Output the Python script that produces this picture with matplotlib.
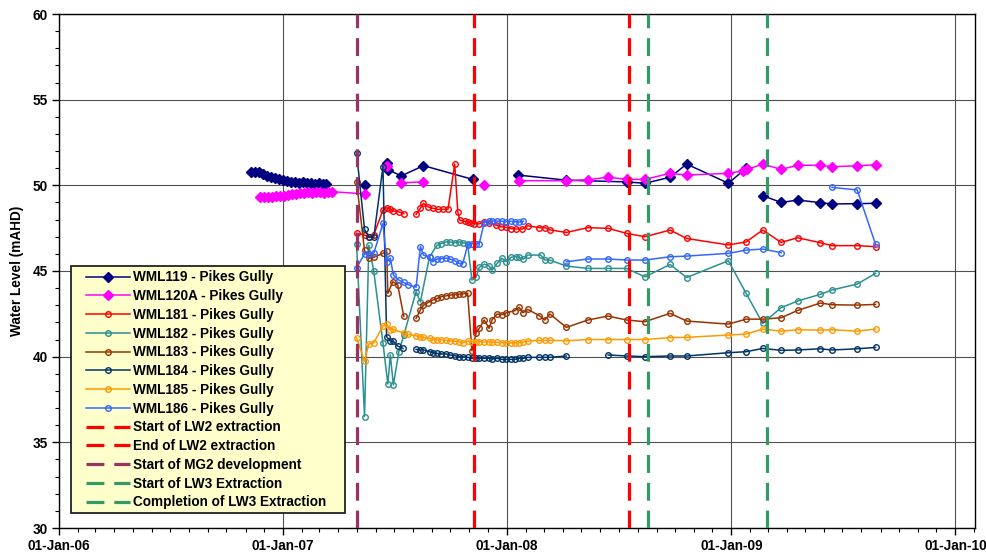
import numpy as np
import matplotlib
matplotlib.use("Agg")
import matplotlib.pyplot as plt
import matplotlib.dates as mdates
from matplotlib.patches import Rectangle
from matplotlib.ticker import MultipleLocator

plt.rcParams['font.family'] = ['Liberation Sans', 'DejaVu Sans']
plt.rcParams['font.weight'] = 'bold'

nan = np.nan

# --------------
# Data
# --------------
wml119_dates = ['2006-11-10', '2006-11-17', '2006-11-23', '2006-11-30', '2006-12-06', '2006-12-13',
                '2006-12-19', '2006-12-26', '2007-01-01', '2007-01-07', '2007-01-14', '2007-01-20',
                '2007-01-27', '2007-02-02', '2007-02-09', '2007-02-15', '2007-02-22', '2007-03-01',
                '2007-03-07', '2007-03-13', '2007-04-10', '2007-05-14', '2007-06-01', '2007-06-19',
                '2007-06-22', '2007-07-13', '2007-08-18', '2007-11-06', '2007-12-15', '2008-01-19',
                '2008-04-07', '2008-07-14', '2008-08-13', '2008-09-23', '2008-10-20', '2008-12-27',
                '2009-01-25', '2009-02-08', '2009-02-21', '2009-03-23', '2009-04-19', '2009-05-26',
                '2009-06-14', '2009-07-25', '2009-08-24']
wml119_level = [50.8, 50.8, 50.75, 50.65, 50.55, 50.5,
                50.4, 50.35, 50.3, 50.25, 50.2, 50.2,
                50.15, 50.2, 50.15, 50.15, 50.1, 50.15,
                50.1, 50.05, nan, 50.0, nan, 51.3,
                50.9, 50.55, 51.15, 50.35, nan, 50.6,
                50.3, 50.2, 50.12, 50.47, 51.24, 50.12,
                51.0, nan, 49.4, 49.0, 49.14, 48.99,
                48.91, 48.93, 48.95]

wml120a_dates = ['2006-11-24', '2006-12-01', '2006-12-07', '2006-12-14', '2006-12-20', '2006-12-27',
                 '2007-01-03', '2007-01-09', '2007-01-16', '2007-01-22', '2007-01-29', '2007-02-04',
                 '2007-02-11', '2007-02-17', '2007-02-24', '2007-03-02', '2007-03-09', '2007-03-15',
                 '2007-03-22', '2007-05-14', '2007-06-01', '2007-06-19', '2007-07-01', '2007-07-13',
                 '2007-08-18', '2007-10-01', '2007-11-25', '2007-12-20', '2008-01-21', '2008-04-07',
                 '2008-05-12', '2008-06-14', '2008-07-14', '2008-08-13', '2008-09-23', '2008-10-20',
                 '2008-12-27', '2009-01-20', '2009-01-27', '2009-02-21', '2009-03-23', '2009-04-19',
                 '2009-05-26', '2009-06-14', '2009-07-25', '2009-08-24']
wml120a_level = [49.3, 49.3, 49.3, 49.32, 49.35, 49.38,
                 49.4, 49.45, 49.5, 49.52, 49.55, 49.58,
                 49.6, 49.58, 49.6, 49.6, 49.58, 49.6,
                 49.63, 49.5, nan, 51.15, nan, 50.15,
                 50.2, nan, 50.02, nan, 50.27, 50.27,
                 50.33, 50.47, 50.35, 50.35, 50.7, 50.6,
                 50.7, 50.85, 50.93, 51.24, 50.93, 51.17,
                 51.17, 51.09, 51.14, 51.2]

wml181_dates = ['2007-05-01', '2007-05-14', '2007-05-21', '2007-05-29', '2007-06-13', '2007-06-19',
                '2007-06-25', '2007-06-30', '2007-07-09', '2007-07-17', '2007-07-27', '2007-08-06',
                '2007-08-13', '2007-08-18', '2007-08-25', '2007-09-02', '2007-09-10', '2007-09-19',
                '2007-09-27', '2007-10-08', '2007-10-13', '2007-10-16', '2007-10-24', '2007-10-29',
                '2007-11-04', '2007-11-09', '2007-11-17', '2007-11-25', '2007-12-03', '2007-12-14',
                '2007-12-22', '2007-12-31', '2008-01-08', '2008-01-16', '2008-01-26', '2008-02-04',
                '2008-02-23', '2008-03-03', '2008-03-11', '2008-04-07', '2008-05-12', '2008-06-14',
                '2008-07-14', '2008-08-13', '2008-09-23', '2008-10-20', '2008-12-27', '2009-01-25',
                '2009-02-21', '2009-03-23', '2009-04-19', '2009-05-26', '2009-06-14', '2009-07-25',
                '2009-08-24']
wml181_level = [47.2, 47.1, 47.0, 47.1, 48.56, 48.7,
                48.6, 48.5, 48.45, 48.35, nan, 48.3,
                48.66, 48.95, 48.75, 48.66, 48.6, 48.6,
                48.6, 51.24, 48.46, 47.97, 47.9, 47.85,
                47.8, 47.75, 47.75, 47.87, 47.8, 47.68,
                47.58, 47.55, 47.48, 47.45, 47.45, 47.64,
                47.53, 47.53, 47.4, 47.25, 47.53, 47.49,
                47.2, 47.0, 47.39, 46.9, 46.52, 46.7,
                47.39, 46.67, 46.94, 46.65, 46.48, 46.48,
                46.42]

wml182_dates = ['2007-05-01', '2007-05-14', '2007-05-21', '2007-05-29', '2007-06-13', '2007-06-21',
                '2007-06-25', '2007-06-30', '2007-07-09', '2007-07-17', '2007-08-06', '2007-08-13',
                '2007-08-28', '2007-09-09', '2007-09-16', '2007-09-24', '2007-09-30', '2007-10-08',
                '2007-10-15', '2007-10-21', '2007-10-29', '2007-11-05', '2007-11-12', '2007-11-17',
                '2007-11-25', '2007-12-03', '2007-12-08', '2007-12-16', '2007-12-24', '2007-12-31',
                '2008-01-08', '2008-01-16', '2008-01-21', '2008-01-28', '2008-02-04', '2008-02-25',
                '2008-03-03', '2008-03-11', '2008-04-07', '2008-05-12', '2008-06-14', '2008-07-14',
                '2008-08-13', '2008-09-23', '2008-10-20', '2008-12-27', '2009-01-25', '2009-02-21',
                '2009-03-23', '2009-04-19', '2009-05-26', '2009-06-14', '2009-07-25', '2009-08-24']
wml182_level = [46.6, 36.5, 46.5, 45.0, 40.8, 38.4,
                40.1, 38.35, 40.3, 41.25, 43.8, 43.2,
                45.83, 46.5, 46.6, 46.7, 46.7, 46.65,
                46.7, 46.65, 46.6, 44.47, 44.66, 45.21,
                45.4, 45.3, 45.05, 45.44, 45.74, 45.55,
                45.8, 45.84, 45.8, 45.7, 45.93, 45.93,
                45.64, 45.64, 45.29, 45.15, 45.15, 45.15,
                44.66, 45.38, 44.62, 45.6, 43.69, 41.94,
                42.86, 43.25, 43.64, 43.89, 44.24, 44.86]

wml183_dates = ['2007-05-01', '2007-05-14', '2007-05-21', '2007-05-29', '2007-06-13', '2007-06-19',
                '2007-06-21', '2007-06-29', '2007-07-07', '2007-07-17', '2007-07-27', '2007-08-06',
                '2007-08-13', '2007-08-18', '2007-08-25', '2007-09-02', '2007-09-09', '2007-09-16',
                '2007-09-24', '2007-10-02', '2007-10-08', '2007-10-15', '2007-10-21', '2007-10-29',
                '2007-11-05', '2007-11-12', '2007-11-17', '2007-11-25', '2007-12-03', '2007-12-08',
                '2007-12-16', '2007-12-24', '2007-12-31', '2008-01-14', '2008-01-21', '2008-01-27',
                '2008-02-04', '2008-02-23', '2008-03-03', '2008-03-11', '2008-04-07', '2008-05-12',
                '2008-06-14', '2008-07-14', '2008-08-13', '2008-09-23', '2008-10-20', '2008-12-27',
                '2009-01-25', '2009-02-21', '2009-03-23', '2009-04-19', '2009-05-26', '2009-06-14',
                '2009-07-25', '2009-08-24']
wml183_level = [50.2, 46.2, 45.74, 45.8, 46.03, 46.18,
                43.69, 44.37, 44.2, 42.35, nan, 42.24,
                42.72, 43.0, 43.15, 43.3, 43.4, 43.5,
                43.55, 43.6, 43.62, 43.65, 43.68, 43.7,
                40.35, 41.4, 41.65, 42.14, 41.65, 42.16,
                42.49, 42.45, 42.56, 42.68, 42.88, 42.56,
                42.76, 42.39, 42.14, 42.49, 41.71, 42.14,
                42.37, 42.14, 42.04, 42.53, 42.08, 41.9,
                42.19, 42.19, 42.27, 42.7, 43.13, 43.03,
                43.01, 43.05]

wml184_dates = ['2007-05-01', '2007-05-14', '2007-05-21', '2007-05-29', '2007-06-13', '2007-06-19',
                '2007-06-25', '2007-06-30', '2007-07-07', '2007-07-16', '2007-07-27', '2007-08-06',
                '2007-08-13', '2007-08-18', '2007-08-28', '2007-09-02', '2007-09-09', '2007-09-16',
                '2007-09-24', '2007-09-30', '2007-10-08', '2007-10-15', '2007-10-21', '2007-10-29',
                '2007-11-05', '2007-11-12', '2007-11-17', '2007-11-25', '2007-12-03', '2007-12-08',
                '2007-12-16', '2007-12-24', '2007-12-31', '2008-01-08', '2008-01-14', '2008-01-21',
                '2008-01-28', '2008-02-04', '2008-02-23', '2008-03-03', '2008-03-11', '2008-04-07',
                '2008-05-12', '2008-06-14', '2008-07-14', '2008-08-13', '2008-09-23', '2008-10-20',
                '2008-12-27', '2009-01-25', '2009-02-21', '2009-03-23', '2009-04-19', '2009-05-26',
                '2009-06-14', '2009-07-25', '2009-08-24']
wml184_level = [51.9, 47.43, 46.96, 46.96, 51.09, 41.16,
                40.9, 40.9, 40.62, 40.48, nan, 40.43,
                40.39, 40.39, 40.29, 40.23, 40.19, 40.16,
                40.16, 40.1, 40.06, 40.0, 40.0, 39.96,
                39.9, 39.9, 39.9, 39.9, 39.9, 39.86,
                39.9, 39.84, 39.84, 39.84, 39.84, 39.9,
                39.9, 39.96, 39.96, 39.96, 39.96, 40.04,
                nan, 40.1, 40.04, 40.0, 40.04, 40.04,
                40.23, 40.29, 40.48, 40.37, 40.39, 40.46,
                40.39, 40.46, 40.54]

wml185_dates = ['2007-05-01', '2007-05-14', '2007-05-21', '2007-05-29', '2007-06-13', '2007-06-19',
                '2007-06-25', '2007-06-30', '2007-07-17', '2007-07-24', '2007-08-06', '2007-08-13',
                '2007-08-18', '2007-08-28', '2007-09-02', '2007-09-09', '2007-09-16', '2007-09-24',
                '2007-09-30', '2007-10-08', '2007-10-15', '2007-10-21', '2007-10-29', '2007-11-05',
                '2007-11-12', '2007-11-17', '2007-11-25', '2007-12-03', '2007-12-08', '2007-12-16',
                '2007-12-24', '2007-12-31', '2008-01-08', '2008-01-14', '2008-01-21', '2008-01-28',
                '2008-02-04', '2008-02-23', '2008-03-03', '2008-03-11', '2008-04-07', '2008-05-12',
                '2008-06-14', '2008-07-14', '2008-08-13', '2008-09-23', '2008-10-20', '2008-12-27',
                '2009-01-25', '2009-02-21', '2009-03-23', '2009-04-19', '2009-05-26', '2009-06-14',
                '2009-07-25', '2009-08-24']
wml185_level = [41.1, 39.74, 40.74, 40.81, 41.79, 41.9,
                41.55, 41.6, 41.36, 41.3, 41.22, 41.15,
                41.12, 41.08, 41.0, 41.0, 40.98, 40.95,
                40.92, 40.9, 40.88, 40.81, 40.9, 40.88,
                40.85, 40.88, 40.85, 40.86, 40.85, 40.83,
                40.82, 40.81, 40.8, 40.8, 40.82, 40.85,
                40.91, 40.95, 40.95, 40.95, 40.93, 41.0,
                41.0, 41.0, 41.0, 41.11, 41.13, 41.26,
                41.32, 41.61, 41.49, 41.57, 41.55, 41.57,
                41.49, 41.61]

wml186_dates = ['2007-05-01', '2007-05-14', '2007-05-21', '2007-05-29', '2007-06-13', '2007-06-19',
                '2007-06-25', '2007-06-30', '2007-07-09', '2007-07-17', '2007-07-24', '2007-08-06',
                '2007-08-13', '2007-08-18', '2007-08-28', '2007-09-02', '2007-09-09', '2007-09-16',
                '2007-09-24', '2007-09-30', '2007-10-08', '2007-10-15', '2007-10-21', '2007-10-29',
                '2007-11-05', '2007-11-12', '2007-11-17', '2007-11-25', '2007-12-03', '2007-12-08',
                '2007-12-16', '2007-12-24', '2007-12-31', '2008-01-08', '2008-01-14', '2008-01-21',
                '2008-01-28', '2008-03-01', '2008-04-07', '2008-05-12', '2008-06-14', '2008-07-14',
                '2008-08-13', '2008-09-23', '2008-10-20', '2008-12-27', '2009-01-25', '2009-02-21',
                '2009-03-23', '2009-05-01', '2009-06-14', '2009-07-25', '2009-08-24']
wml186_level = [45.19, 46.0, 46.0, 46.03, 47.78, 45.54,
                45.75, 44.76, 44.47, 44.33, 44.2, 44.05,
                46.42, 45.93, 45.8, 45.54, 45.7, 45.72,
                45.75, 45.7, 45.6, 45.44, 45.42, 46.5,
                46.6, 46.6, 46.6, 47.82, 47.9, 47.92,
                47.92, 47.9, 47.88, 47.9, 47.88, 47.85,
                47.9, nan, 45.54, 45.7, 45.7, 45.64,
                45.64, 45.83, 45.87, 46.03, 46.22, 46.28,
                46.07, nan, 49.88, 49.73, 46.55]

# Mining events
lw2_start = '2007-11-08'
lw2_end = '2008-07-18'
mg2_start = '2007-05-01'
lw3_start = '2008-08-18'
lw3_end = '2009-02-28'

# --------------
# Plot
# --------------
fig = plt.figure(figsize=(9.87, 5.56), dpi=100)
ax = fig.add_axes([59 / 987, 28 / 556, 916 / 987, 514 / 556])

series = [
    (wml119_dates, wml119_level, 'WML119 - Pikes Gully', '#000080', 'D'),
    (wml120a_dates, wml120a_level, 'WML120A - Pikes Gully', '#FF00FF', 'D'),
    (wml181_dates, wml181_level, 'WML181 - Pikes Gully', '#FF0000', 'o'),
    (wml182_dates, wml182_level, 'WML182 - Pikes Gully', '#2A9090', 'o'),
    (wml183_dates, wml183_level, 'WML183 - Pikes Gully', '#993300', 'o'),
    (wml184_dates, wml184_level, 'WML184 - Pikes Gully', '#003366', 'o'),
    (wml185_dates, wml185_level, 'WML185 - Pikes Gully', '#FF9900', 'o'),
    (wml186_dates, wml186_level, 'WML186 - Pikes Gully', '#3366FF', 'o'),
]

for dates, level, label, color, marker in series:
    d = np.array(dates, dtype='datetime64[D]')
    if marker == 'D':
        ax.plot(d, level, color=color, lw=1.1, marker='D', ms=5.5, mfc=color, mec=color,
                label=label, zorder=3)
    else:
        ax.plot(d, level, color=color, lw=1.1, marker='o', ms=4, mfc='none', mec=color,
                mew=1.0, label=label, zorder=3)

events = [
    (lw2_start, 'Start of LW2 extraction', '#FF0000'),
    (lw2_end, 'End of LW2 extraction', '#FF0000'),
    (mg2_start, 'Start of MG2 development', '#993366'),
    (lw3_start, 'Start of LW3 Extraction', '#339966'),
    (lw3_end, 'Completion of LW3 Extraction', '#339966'),
]
for day, label, color in events:
    ax.axvline(np.datetime64(day), color=color, lw=2.3, dashes=(5.6, 3.1), label=label, zorder=4)

# axes
ax.set_xlim(np.datetime64('2006-01-01'), np.datetime64('2010-02-02'))
ax.set_ylim(30, 60)
ax.xaxis.set_major_locator(mdates.YearLocator())
ax.xaxis.set_minor_locator(mdates.MonthLocator())
ax.xaxis.set_major_formatter(mdates.DateFormatter('%d-%b-%y'))
ax.yaxis.set_major_locator(MultipleLocator(5))
ax.yaxis.set_minor_locator(MultipleLocator(1))
ax.tick_params(which='major', direction='out', length=5, width=1, labelsize=9.8, pad=3)
ax.tick_params(which='minor', direction='out', length=3, width=0.8)
for lab in ax.get_xticklabels() + ax.get_yticklabels():
    lab.set_fontweight('bold')

ax.grid(True, which='major', color='#505050', lw=0.8, zorder=0)
for s in ax.spines.values():
    s.set_color('black')
    s.set_linewidth(1.0)

ax.set_ylabel('Water Level (mAHD)', fontsize=9.8, fontweight='bold', labelpad=6)

# legend box (yellow panel) drawn separately so the padding matches the original
box = Rectangle((0.0131, 0.0292), 0.2991, 0.4805, transform=ax.transAxes,
                facecolor='#FFFFCC', edgecolor='#222222', lw=1.3, zorder=5)
ax.add_patch(box)

leg = ax.legend(loc='upper left', bbox_to_anchor=(0.0295, 0.5013),
                prop={'weight': 'bold', 'size': 9.8}, frameon=False,
                handlelength=3.2, handletextpad=0.22, labelspacing=0.35,
                borderpad=0, borderaxespad=0)
leg.set_zorder(6)

plt.savefig('out.png', dpi=100)
plt.close()
